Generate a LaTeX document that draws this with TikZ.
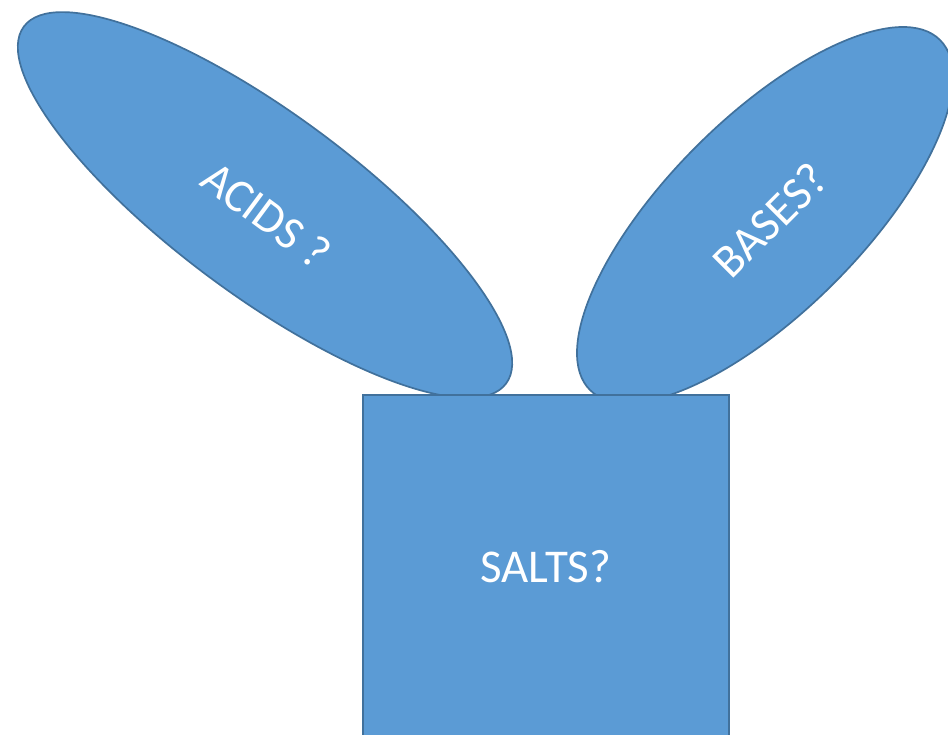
\documentclass[tikz,border=0pt]{standalone}
\usepackage{fontspec}
\setmainfont{Carlito}
\usetikzlibrary{shapes.geometric}
\definecolor{fillblue}{HTML}{5B9BD5}
\definecolor{edgeblue}{HTML}{41719C}
\begin{document}
\begin{tikzpicture}[x=1pt,y=-1pt,
  shapebox/.style={fill=fillblue, draw=edgeblue, line width=1.7pt, text=white,
    font=\fontsize{47}{56}\selectfont, inner sep=0pt},
  ovalbox/.style={shapebox, ellipse, text height=48pt, text depth=2pt}]
\useasboundingbox (0,0) rectangle (948,734);
\clip (0,0) rectangle (948,734);
\node[ovalbox, minimum width=600pt, minimum height=182pt, rotate=-36.5] (acids) at (265,205) {\hspace*{14pt}ACIDS ?};
\node[ovalbox, minimum width=495pt, minimum height=194pt, rotate=45] (bases) at (765,215) {BASES?};
\node[shapebox, rectangle, minimum width=366pt, minimum height=344pt, anchor=north west] (salts) at (362,394) {SALTS?};
\end{tikzpicture}
\end{document}
